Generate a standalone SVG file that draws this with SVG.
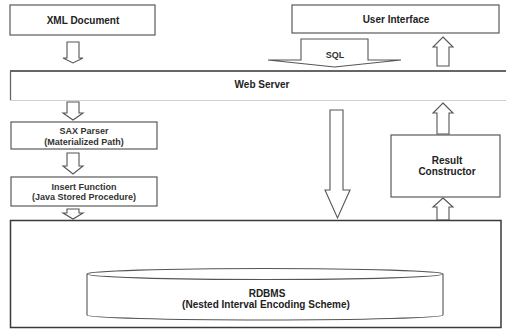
<svg xmlns="http://www.w3.org/2000/svg" width="506" height="330" viewBox="0 0 506 330">
  <style>
    .box { fill: #ffffff; stroke: #5a5a5a; stroke-width: 1.2; }
    .arrow { fill: #ffffff; stroke: #555555; stroke-width: 1.1; stroke-linejoin: miter; }
    .lbl { font-family: "Liberation Sans", Arial, sans-serif; font-size: 10px; font-weight: bold; fill: #222222; text-anchor: middle; }
    .sub { font-family: "Liberation Sans", Arial, sans-serif; font-size: 9px; font-weight: bold; fill: #333333; text-anchor: middle; }
  </style>
  <rect x="0" y="0" width="506" height="330" fill="#ffffff"/>

  <!-- connectors: hollow block arrows -->
  <g id="connectors">
    <!-- XML Document -> Web Server -->
    <path class="arrow" d="M67,42 H79 V58 H83 L73,63 L63,58 H67 Z"/>
    <!-- Web Server -> SAX Parser -->
    <path class="arrow" d="M67,102 H79 V113 H83 L73,120 L63,113 H67 Z"/>
    <!-- SAX Parser -> Insert Function -->
    <path class="arrow" d="M67,153 H79 V166 H83 L73,174 L63,166 H67 Z"/>
    <!-- Insert Function -> RDBMS -->
    <path class="arrow" d="M67,209 H79 V213 H83 L73,219 L63,213 H67 Z"/>
    <!-- SQL: User Interface -> Web Server -->
    <path class="arrow" d="M301,60 V39 H368 V60 H401 L334.5,67 L268,60 Z"/>
    <!-- Web Server -> User Interface -->
    <path class="arrow" d="M443,37 L453,47 H449 V66 H437 V47 H433 Z"/>
    <!-- Web Server -> RDBMS -->
    <path class="arrow" d="M330,110 H343 V190 H350 L337.5,218 L325,190 H330 Z"/>
    <!-- Result Constructor -> Web Server -->
    <path class="arrow" d="M443,103 L453,113 H449 V134 H437 V113 H433 Z"/>
    <!-- RDBMS -> Result Constructor -->
    <path class="arrow" d="M443,198 L453,207 H449 V220 H437 V207 H433 Z"/>
    <text x="335" y="58" class="sub" font-size="8.5px">SQL</text>
  </g>

  <g id="xml-document">
    <rect class="box" x="10" y="5" width="145" height="30"/>
    <text x="83" y="24" class="lbl">XML Document</text>
  </g>

  <g id="user-interface">
    <rect class="box" x="292" y="5" width="207" height="28"/>
    <text x="396" y="23" class="lbl">User Interface</text>
  </g>

  <g id="web-server">
    <rect x="10" y="71" width="500" height="29" fill="#ffffff"/>
    <line x1="10" y1="71" x2="506" y2="71" stroke="#333333" stroke-width="1.3"/>
    <line x1="10" y1="100.5" x2="506" y2="100.5" stroke="#cfcfcf" stroke-width="1.2"/>
    <line x1="10.5" y1="71" x2="10.5" y2="100" stroke="#666666" stroke-width="1.3"/>
    <text x="262" y="88" class="lbl">Web Server</text>
  </g>

  <g id="sax-parser">
    <rect class="box" x="11" y="122" width="146" height="27"/>
    <text x="84" y="134" class="sub">SAX Parser</text>
    <text x="84" y="144.5" class="sub">(Materialized Path)</text>
  </g>

  <g id="insert-function">
    <rect class="box" x="11" y="177" width="146" height="29"/>
    <text x="84" y="189.5" class="sub">Insert Function</text>
    <text x="84" y="200" class="sub">(Java Stored Procedure)</text>
  </g>

  <g id="result-constructor">
    <rect class="box" x="391" y="135" width="109" height="62"/>
    <text x="447" y="164" class="lbl">Result</text>
    <text x="447" y="175" class="lbl">Constructor</text>
  </g>

  <g id="database-layer">
    <rect x="10.5" y="220.5" width="490.5" height="107" fill="#ffffff" stroke="#3a3a3a" stroke-width="1.5"/>
  </g>

  <g id="rdbms">
    <path d="M87,274 V315 A178,5 0 0 0 443,315 V274" fill="#ffffff" stroke="#555555" stroke-width="1.1"/>
    <ellipse cx="265" cy="274" rx="178" ry="5.5" fill="#ffffff" stroke="#555555" stroke-width="1.1"/>
    <text x="267" y="297" class="lbl">RDBMS</text>
    <text x="266" y="308" class="lbl" font-size="10.5px">(Nested Interval Encoding Scheme)</text>
  </g>
</svg>
